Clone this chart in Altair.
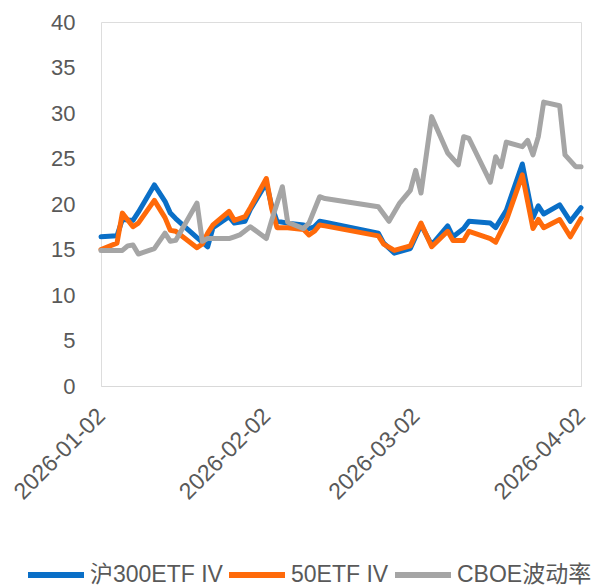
import altair as alt
import pandas as pd

# ---- data ----
iv_dates = [
    "2026-01-02", "2026-01-05", "2026-01-06", "2026-01-08", "2026-01-09",
    "2026-01-12", "2026-01-14", "2026-01-15", "2026-01-16", "2026-01-20",
    "2026-01-21", "2026-01-22", "2026-01-23", "2026-01-26", "2026-01-27",
    "2026-01-29", "2026-01-30", "2026-02-02", "2026-02-03", "2026-02-04",
    "2026-02-06", "2026-02-09", "2026-02-10", "2026-02-11", "2026-02-12",
    "2026-02-13", "2026-02-23", "2026-02-24", "2026-02-26", "2026-03-01",
    "2026-03-03", "2026-03-05", "2026-03-08", "2026-03-09", "2026-03-11",
    "2026-03-12", "2026-03-16", "2026-03-17", "2026-03-19", "2026-03-22",
    "2026-03-24", "2026-03-25", "2026-03-26", "2026-03-29", "2026-03-31",
    "2026-04-02",
]
hs300_iv = [
    16.4, 16.5, 18.3, 18.2, 19.1,
    22.1, 20.3, 19.0, 18.4, 16.3,
    15.8, 15.3, 17.4, 18.6, 17.9,
    18.1, 19.4, 22.3, 19.8, 18.1,
    17.9, 17.7, 17.3, 17.5, 18.1,
    18.0, 16.8, 15.7, 14.6, 15.1,
    17.7, 15.5, 17.6, 16.4, 17.3,
    18.1, 17.9, 17.4, 19.3, 24.4,
    18.5, 19.8, 18.9, 19.9, 18.1,
    19.6,
]
sz50_iv = [
    15.0, 15.7, 19.0, 17.5, 17.9,
    20.4, 18.5, 17.1, 17.0, 15.2,
    15.6, 16.8, 17.7, 19.2, 18.2,
    18.6, 19.6, 22.8, 19.5, 17.4,
    17.4, 17.2, 16.6, 17.0, 17.7,
    17.6, 16.5, 15.6, 14.9, 15.4,
    17.9, 15.3, 17.0, 16.0, 16.0,
    17.0, 16.2, 15.8, 18.2, 23.2,
    17.3, 18.3, 17.4, 18.3, 16.4,
    18.4,
]
cboe_dates = [
    "2026-01-02", "2026-01-06", "2026-01-07", "2026-01-08", "2026-01-09",
    "2026-01-12", "2026-01-14", "2026-01-15", "2026-01-16", "2026-01-20",
    "2026-01-21", "2026-01-22", "2026-01-26", "2026-01-27", "2026-01-28",
    "2026-01-30", "2026-02-02", "2026-02-03", "2026-02-05", "2026-02-06",
    "2026-02-09", "2026-02-10", "2026-02-12", "2026-02-13", "2026-02-23",
    "2026-02-25", "2026-02-27", "2026-03-01", "2026-03-02", "2026-03-03",
    "2026-03-05", "2026-03-08", "2026-03-10", "2026-03-11", "2026-03-12",
    "2026-03-16", "2026-03-17", "2026-03-18", "2026-03-19", "2026-03-22",
    "2026-03-23", "2026-03-24", "2026-03-25", "2026-03-26", "2026-03-29",
    "2026-03-30", "2026-04-01", "2026-04-02",
]
cboe_vix = [
    14.9, 14.9, 15.4, 15.5, 14.5,
    15.1, 16.8, 15.9, 16.0, 20.1,
    15.9, 16.2, 16.2, 16.4, 16.6,
    17.5, 16.2, 18.2, 21.9, 18.0,
    17.3, 17.9, 20.8, 20.6, 19.7,
    18.1, 20.1, 21.5, 23.7, 21.2,
    29.6, 25.6, 24.3, 27.4, 27.2,
    22.4, 25.2, 24.1, 26.8, 26.3,
    27.0, 25.4, 27.4, 31.2, 30.8,
    25.4, 24.1, 24.1,
]
series_names = ["沪300ETF IV", "50ETF IV", "CBOE波动率"]
series_colors = ["#0A6FC7", "#FF6A0A", "#A5A5A5"]
tick_dates = ["2026-01-02", "2026-02-02", "2026-03-02", "2026-04-02"]
y_ticks = [0, 5, 10, 15, 20, 25, 30, 35, 40]

rows = []
for d, v in zip(iv_dates, hs300_iv):
    rows.append({"date": d, "value": v, "series": series_names[0]})
for d, v in zip(iv_dates, sz50_iv):
    rows.append({"date": d, "value": v, "series": series_names[1]})
for d, v in zip(cboe_dates, cboe_vix):
    rows.append({"date": d, "value": v, "series": series_names[2]})
df = pd.DataFrame(rows)


def ms(s):
    return int(pd.Timestamp(s, tz="UTC").value // 10**6)


FONT = "Liberation Sans, Arial, Noto Sans CJK SC, sans-serif"
TXT = "#595959"

x_enc = alt.X(
    "date:T",
    scale=alt.Scale(type="utc", domain=[ms(tick_dates[0]), ms(tick_dates[-1])]),
    axis=alt.Axis(
        values=[ms(s) for s in tick_dates],
        format="%Y-%m-%d",
        labelAngle=-45,
        labelAlign="right",
        labelBaseline="middle",
        labelPadding=26,
        labelFlush=False,
        labelOverlap=False,
        ticks=False,
        grid=False,
        domainColor="#D9D9D9",
        domainWidth=1,
        labelFontSize=23,
        labelColor=TXT,
        labelFont=FONT,
        title=None,
    ),
)
y_enc = alt.Y(
    "value:Q",
    scale=alt.Scale(domain=[0, 40], nice=False),
    axis=alt.Axis(
        values=y_ticks,
        domain=False,
        ticks=False,
        grid=False,
        labelPadding=26,
        labelFontSize=22,
        labelColor=TXT,
        labelFont=FONT,
        title=None,
    ),
)
color_enc = alt.Color(
    "series:N",
    scale=alt.Scale(domain=series_names, range=series_colors),
    sort=series_names,
    legend=alt.Legend(
        orient="none",
        legendX=-76,
        legendY=522,
        direction="horizontal",
        symbolType="stroke",
        symbolSize=3136,
        symbolStrokeWidth=6,
        labelFontSize=23,
        labelFont=FONT,
        labelColor=TXT,
        labelOffset=3,
        columnPadding=-6,
        labelLimit=400,
        title=None,
    ),
)

base = alt.Chart(df)
layers = []
for name in series_names:
    layers.append(
        base.transform_filter(alt.datum.series == name)
        .mark_line(strokeWidth=5, strokeCap="round", strokeJoin="round")
        .encode(x=x_enc, y=y_enc, color=color_enc)
    )

chart = (
    alt.layer(*layers)
    .properties(
        width=480,
        height=364,
        autosize=alt.AutoSizeParams(type="none"),
        padding={"left": 93, "top": 14, "right": 14, "bottom": 200},
    )
    .configure_view(stroke=None)
    .configure(background="white")
)

chart.save("out.html", embed_options={"renderer": "svg", "actions": False})
